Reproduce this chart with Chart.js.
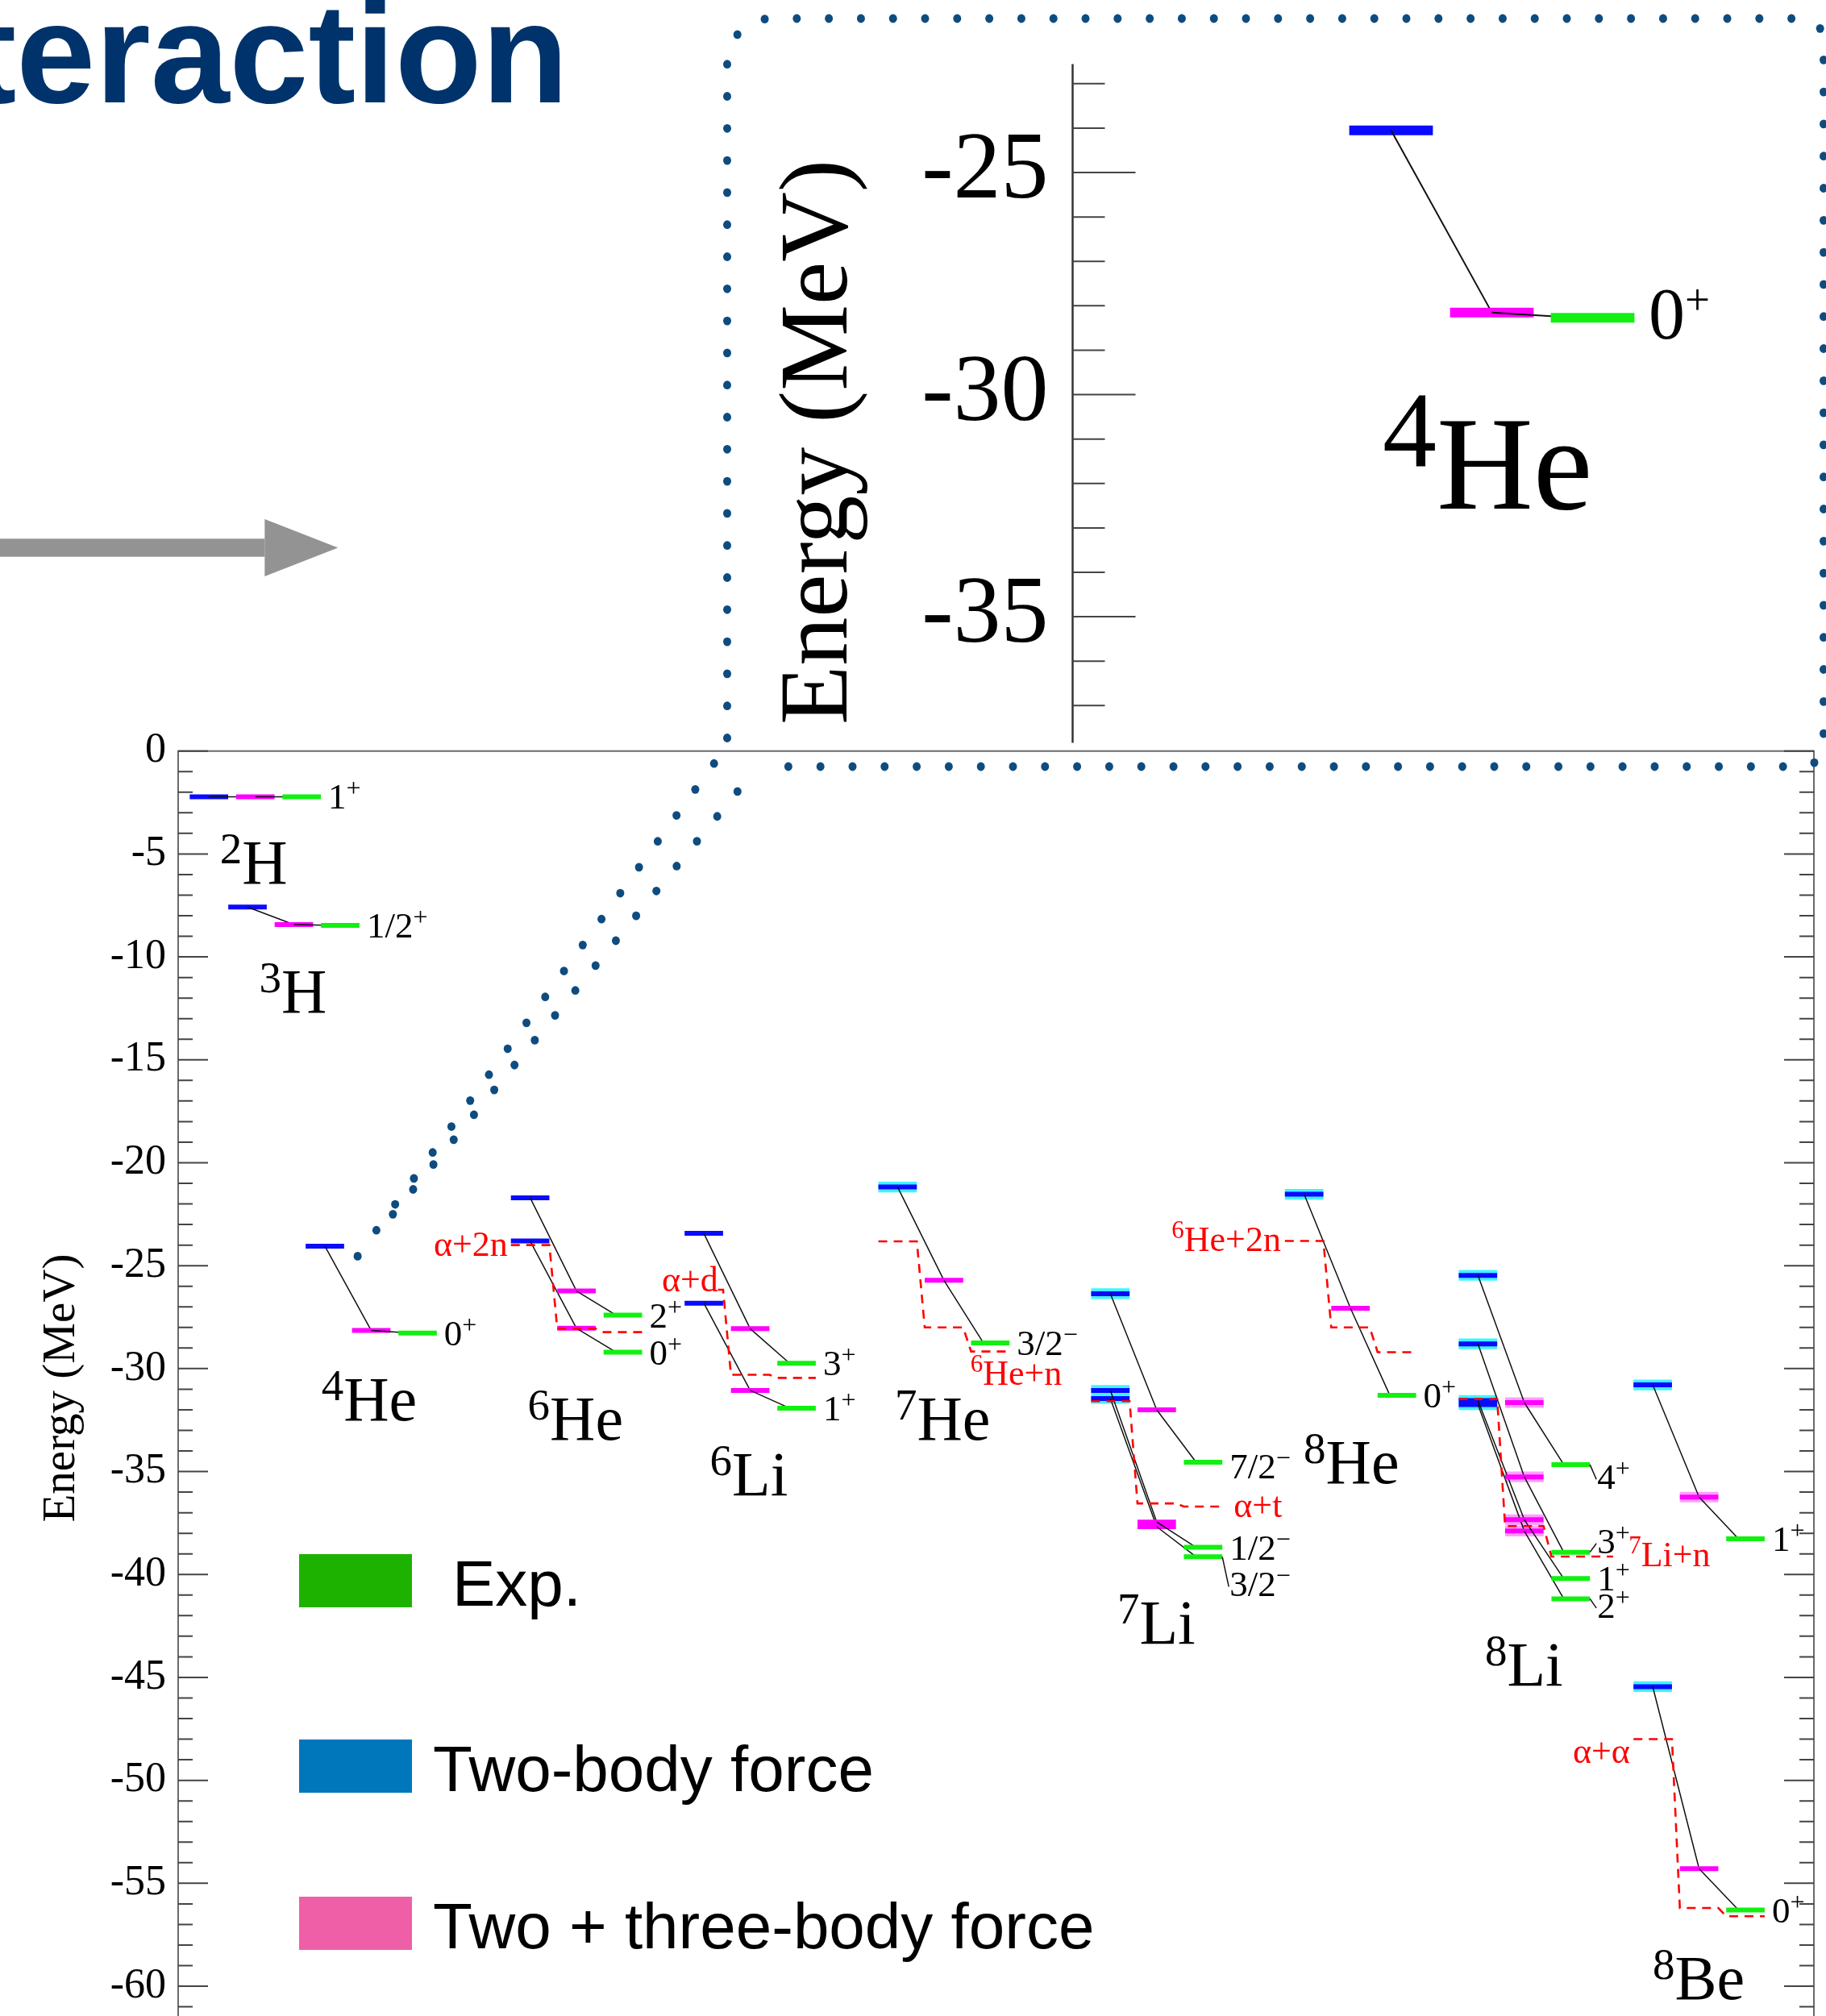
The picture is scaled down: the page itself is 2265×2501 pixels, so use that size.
<!DOCTYPE html>
<html lang="en">
<head>
<meta charset="UTF-8">
<title>Light nuclei - energy levels</title>
<script src="https://cdn.jsdelivr.net/npm/chart.js@4.4.1/dist/chart.umd.min.js"></script>
<style>
  html, body { margin: 0; padding: 0; background: #fff; overflow: hidden; }
  #page { position: relative; width: 2265px; height: 2501px; overflow: hidden; background: #fff; }
  #page canvas { position: absolute; left: 0; top: 0; }
  #insetChart { top: -200px !important; }
</style>
</head>
<body>
<div id="page">
  <canvas id="mainChart" width="2265" height="2700"></canvas>
  <canvas id="insetChart" width="2265" height="1300"></canvas>
  <canvas id="deco" width="2265" height="2501"></canvas>
</div>
<script>
// ---- data (MeV) ----
const nuclei = ['^2H', '^3H', '^4He', '^6He', '^6Li', '^7He', '^7Li', '^8He', '^8Li', '^8Be'];

// one entry per state
const stateNucleus = [0, 1, 2, 3, 3, 4, 4, 5, 6, 6, 6, 7, 8, 8, 8, 8, 9, 9];
const twoBody      = [-2.22, -7.58, -24.05, -21.7, -23.8, -23.43, -26.82, -21.18, -26.36, -31.06, -31.45, -21.53, -25.47, -28.8, -31.55, -31.75, -30.79, -45.45];
const twoPlusThree = [-2.22, -8.43, -28.15, -26.23, -28.04, -28.06, -31.06, -25.71, -32.0, -37.45, -37.68, -27.07, -31.65, -35.26, -37.34, -37.89, -36.24, -54.29];
const experiment   = [-2.22, -8.47, -28.27, -27.4, -29.2, -29.74, -31.92, -28.75, -34.55, -38.68, -39.14, -31.3, -34.66, -38.92, -40.2, -41.18, -38.27, -56.3];
const spinParity   = ['1^+', '1/2^+', '0^+', '2^+', '0^+', '3^+', '1^+', '3/2^−', '7/2^−', '1/2^−', '3/2^−', '0^+', '4^+', '3^+', '1^+', '2^+', '1^+', '0^+'];

// breakup thresholds
const thresholdNucleus = [3, 4, 5, 6, 7, 8, 9];
const thresholdNames   = ['α+2n', 'α+d', '^6He+n', 'α+t', '^6He+2n', '^7Li+n', 'α+α'];
const thrTwoBody       = [-24.0, -26.17, -23.82, -31.58, -23.8, -31.48, -48.0];
const thrTwoPlusThree  = [-28.06, -30.3, -28.0, -36.55, -28.0, -37.65, -56.2];
const thrExperiment    = [-28.23, -30.45, -29.17, -36.7, -29.2, -39.13, -56.6];

const yTicksMain = [0, -5, -10, -15, -20, -25, -30, -35, -40, -45, -50, -55, -60];
const yTicksInset = [-25, -30, -35];
const legendLabels = ['Exp.', 'Two-body force', 'Two + three-body force'];

// ---- layout / style ----
const slot = [0.664, 1.496, 3.165, 7.593, 11.34, 15.52, 20.11, 24.29, 28.04, 31.81]; // column of the two-body bar
const BAR_HALF = 0.415;
const nameX = [0.90, 1.75, 3.09, 7.54, 11.47, 15.46, 20.26, 24.28, 28.19, 31.81];
const nameY = [-6.43, -12.70, -32.51, -33.45, -36.15, -33.45, -43.35, -35.55, -45.39, -60.62];
const jpShift = [0, 0, 0, 0, 0, 0, 0, 0, -0.2, 0, -1.33, 0, -0.6, 0.55, 0, -0.33, 0, 0];
const thrLabelX = [7.11, 11.65, 17.09, 22.77, 23.79, 31.29, 31.32];
const thrLabelY = [-24.52, -26.23, -30.8, -37.2, -24.28, -39.6, -49.15];
const thrLabelAlign = ['right', 'right', 'left', 'left', 'right', 'left', 'right'];
const thrStartShift = [0, 0.72, 0, 0, 0, 0, 0];
const thrEndShift = [0, 0, 0, 0, 0, 0.5, 0];
const pinkHalo = [12, 13, 14, 15, 16];
const legendTop = [1928, 2158, 2353];
const legendTextX = [561, 537, 537];
const legendColors = ['#1eb200', '#0077bb', '#ee5fa7'];

const BLUE = '#0a0aff', MAGENTA = '#ff00ff', GREEN = '#11f011', CYAN = '#3ff5ff', PINK = '#ffa0ff';
const SERIF = '"Liberation Serif", "Times New Roman", serif';
const SANS = '"Liberation Sans", Arial, sans-serif';

// text with one-character superscripts marked by ^
function drawRich(ctx, str, x, y, size, supSize, rise, align) {
  const parts = [];
  for (let i = 0; i < str.length; i++) {
    if (str[i] === '^') { parts.push([str[i + 1], true]); i++; }
    else if (parts.length && !parts[parts.length - 1][1]) parts[parts.length - 1][0] += str[i];
    else parts.push([str[i], false]);
  }
  let w = 0;
  parts.forEach(p => { ctx.font = (p[1] ? supSize : size) + 'px ' + SERIF; p.push(ctx.measureText(p[0]).width); w += p[2]; });
  let cx = align === 'right' ? x - w : (align === 'center' ? x - w / 2 : x);
  ctx.textAlign = 'left';
  ctx.textBaseline = 'alphabetic';
  parts.forEach(p => {
    ctx.font = (p[1] ? supSize : size) + 'px ' + SERIF;
    ctx.fillText(p[0], cx, p[1] ? y - rise : y);
    cx += p[2];
  });
}

function line(data, color, width, order, extra) {
  return Object.assign({ data: data, borderColor: color, borderWidth: width, order: order,
    pointRadius: 0, fill: false, tension: 0, borderCapStyle: 'butt', spanGaps: false }, extra || {});
}

function levelDatasets(states, bw, lw, withHalo) {
  const seg = (c, e) => [{ x: c - BAR_HALF, y: e }, { x: c + BAR_HALF, y: e }, { x: c, y: null }];
  const bars = [[], [], []], halos = [[], []], conn1 = [], conn2 = [];
  states.forEach(i => {
    const s = slot[stateNucleus[i]];
    const vals = [twoBody[i], twoPlusThree[i], experiment[i]];
    vals.forEach((e, k) => bars[k].push(...seg(s + k, e)));
    if (withHalo && stateNucleus[i] >= 5) halos[0].push(...seg(s, vals[0]));
    if (withHalo && pinkHalo.includes(i)) halos[1].push(...seg(s + 1, vals[1]));
    conn1.push({ x: s, y: vals[0] }, { x: s + 1, y: vals[1] }, { x: s, y: null });
    conn2.push({ x: s + 1, y: vals[1] }, { x: s + 2 - 0.15, y: vals[2] }, { x: s, y: null });
  });
  return [
    line(halos[0], CYAN, bw * 2.2, 9),
    line(halos[1], PINK, bw * 2.2, 8),
    line(bars[0], BLUE, bw, 7),
    line(conn1, '#111', lw, 6),
    line(bars[1], MAGENTA, bw, 5),
    line(conn2, '#111', lw, 4),
    line(bars[2], GREEN, bw, 3)
  ];
}

function thresholdData() {
  const pts = [];
  thresholdNucleus.forEach((n, j) => {
    const s = slot[n];
    const v = [thrTwoBody[j], thrTwoPlusThree[j], thrExperiment[j]];
    pts.push({ x: s - BAR_HALF + thrStartShift[j], y: v[0] }, { x: s + BAR_HALF, y: v[0] },
             { x: s + 1 - BAR_HALF, y: v[1] }, { x: s + 1 + BAR_HALF, y: v[1] },
             { x: s + 2 - BAR_HALF, y: v[2] }, { x: s + 2 + BAR_HALF + thrEndShift[j], y: v[2] },
             { x: s, y: null });
  });
  return pts;
}

function drawYTicks(ctx, a, yScale, major, minor, both) {
  ctx.strokeStyle = '#444';
  ctx.lineWidth = 2;
  ctx.beginPath();
  for (let v = Math.ceil(yScale.min); v <= Math.floor(yScale.max); v++) {
    const py = yScale.getPixelForValue(v);
    const len = v % 5 === 0 ? major : minor;
    ctx.moveTo(a.left, py); ctx.lineTo(a.left + len, py);
    if (both) { ctx.moveTo(a.right, py); ctx.lineTo(a.right - len, py); }
  }
  ctx.stroke();
}

const mainDecor = {
  id: 'mainDecor',
  afterDatasetsDraw(chart) {
    const ctx = chart.ctx, a = chart.chartArea, x = chart.scales.x, y = chart.scales.y;
    ctx.save();
    // frame
    ctx.strokeStyle = '#6a6a6a';
    ctx.lineWidth = 2;
    ctx.beginPath();
    ctx.moveTo(a.left, a.bottom); ctx.lineTo(a.left, a.top);
    ctx.lineTo(a.right, a.top); ctx.lineTo(a.right, a.bottom);
    ctx.stroke();
    drawYTicks(ctx, a, y, 37, 18, true);

    // axis title
    ctx.save();
    ctx.translate(91.5, (a.top + a.bottom) / 2);
    ctx.rotate(-Math.PI / 2);
    ctx.fillStyle = '#000';
    ctx.font = '57px ' + SERIF;
    ctx.textAlign = 'center';
    ctx.fillText('Energy (MeV)', 0, 0);
    ctx.restore();

    ctx.fillStyle = '#000';
    nuclei.forEach((name, n) => drawRich(ctx, name, x.getPixelForValue(nameX[n]), y.getPixelForValue(nameY[n]), 78, 55, 25, 'left'));

    // spin-parity labels
    ctx.strokeStyle = '#111';
    ctx.lineWidth = 1.5;
    spinParity.forEach((jp, i) => {
      const gx = x.getPixelForValue(slot[stateNucleus[i]] + 2 + BAR_HALF);
      const ey = y.getPixelForValue(experiment[i]);
      const lx = gx + 9;
      const ly = y.getPixelForValue(experiment[i] - 0.59 + jpShift[i]);
      if (Math.abs(jpShift[i]) >= 0.3) {
        ctx.beginPath(); ctx.moveTo(gx, ey); ctx.lineTo(lx - 1, ly - 12); ctx.stroke();
      }
      drawRich(ctx, jp, lx, ly, 45, 32, 15, 'left');
    });

    ctx.fillStyle = '#ff0000';
    thresholdNames.forEach((t, j) => drawRich(ctx, t, x.getPixelForValue(thrLabelX[j]), y.getPixelForValue(thrLabelY[j]), 44, 31, 16, thrLabelAlign[j]));

    // legend
    legendLabels.forEach((lab, k) => {
      ctx.fillStyle = legendColors[k];
      ctx.fillRect(a.left + 150, legendTop[k], 140, 66);
      ctx.fillStyle = '#000';
      ctx.font = '80px ' + SANS;
      ctx.textAlign = 'left';
      ctx.fillText(lab, legendTextX[k], legendTop[k] + 64);
    });
    ctx.restore();
  }
};

const mainSets = levelDatasets(stateNucleus.map((n, i) => i), 6, 1.5, true);
mainSets.push(line(thresholdData(), '#ff0000', 2.6, 1, { borderDash: [11, 8] }));

new Chart(document.getElementById('mainChart'), {
  type: 'line',
  data: { datasets: mainSets },
  options: {
    responsive: false,
    animation: false,
    events: [],
    layout: { padding: { top: 931.7, right: 15, bottom: 187.7, left: 0 } },
    plugins: { legend: { display: false }, tooltip: { enabled: false } },
    scales: {
      x: { type: 'linear', display: false, min: 0, max: 35.287 },
      y: {
        type: 'linear', min: -61.89, max: 0,
        afterFit: s => { s.width = 221; },
        afterBuildTicks: s => { s.ticks = yTicksMain.map(v => ({ value: v })); },
        ticks: { padding: 15, color: '#000', font: { family: SERIF, size: 52 }, callback: v => String(v) },
        grid: { display: false, drawTicks: false },
        border: { display: false }
      }
    }
  },
  plugins: [mainDecor]
});

// ---- zoomed 4He inset (canvas shifted up by 200px) ----
const insetIdx = [2];
const insetDecor = {
  id: 'insetDecor',
  afterDatasetsDraw(chart) {
    const ctx = chart.ctx, a = chart.chartArea, x = chart.scales.x, y = chart.scales.y;
    ctx.save();
    ctx.strokeStyle = '#333';
    ctx.lineWidth = 2.5;
    ctx.beginPath(); ctx.moveTo(a.left, a.top); ctx.lineTo(a.left, a.bottom); ctx.stroke();
    drawYTicks(ctx, a, y, 78, 40, false);

    ctx.save();
    ctx.translate(1049.6, (a.top + a.bottom) / 2 + 48);
    ctx.rotate(-Math.PI / 2);
    ctx.fillStyle = '#000';
    ctx.font = '120px ' + SERIF;
    ctx.textAlign = 'center';
    ctx.fillText('Energy (MeV)', 0, 0);
    ctx.restore();

    ctx.fillStyle = '#000';
    insetIdx.forEach(i => {
      const n = stateNucleus[i];
      drawRich(ctx, nuclei[n], x.getPixelForValue(slot[n] - 0.085), y.getPixelForValue(-32.56), 166, 134, 53, 'left');
      drawRich(ctx, spinParity[i], x.getPixelForValue(slot[n] + 2 + BAR_HALF + 0.14), y.getPixelForValue(experiment[i] - 0.47), 90, 55, 30, 'left');
    });
    ctx.restore();
  }
};

new Chart(document.getElementById('insetChart'), {
  type: 'line',
  data: { datasets: levelDatasets(insetIdx, 12, 2, false) },
  options: {
    responsive: false,
    animation: false,
    events: [],
    layout: { padding: { top: 279.6, right: 15, bottom: 178.4, left: 0 } },
    plugins: { legend: { display: false }, tooltip: { enabled: false } },
    scales: {
      x: { type: 'linear', display: false, min: 0.005, max: 7.361 },
      y: {
        type: 'linear', min: -37.84, max: -22.56,
        afterFit: s => { s.width = 1330.5; },
        afterBuildTicks: s => { s.ticks = yTicksInset.map(v => ({ value: v })); },
        ticks: { padding: 30, color: '#000', font: { family: SERIF, size: 118 }, callback: v => String(v) },
        grid: { display: false, drawTicks: false },
        border: { display: false }
      }
    }
  },
  plugins: [insetDecor]
});

// ---- slide decorations: title fragment, arrow, dotted call-out ----
const dc = document.getElementById('deco').getContext('2d');
dc.fillStyle = '#00336b';
dc.font = 'bold 176px ' + SANS;
dc.textAlign = 'right';
dc.fillText('teraction', 705, 127);

dc.fillStyle = '#939393';
dc.fillRect(0, 668.3, 328.3, 22.4);
dc.beginPath();
dc.moveTo(328.3, 644); dc.lineTo(419.3, 679.5); dc.lineTo(328.3, 715); dc.closePath();
dc.fill();

function arcPts(cx, cy, r, a0, a1) {
  const out = [];
  for (let k = 0; k <= 24; k++) {
    const t = a0 + (a1 - a0) * k / 24;
    out.push([cx + r * Math.cos(t), cy + r * Math.sin(t)]);
  }
  return out;
}
function dotsAlong(pts, step, r) {
  let carry = 0;
  for (let i = 0; i < pts.length - 1; i++) {
    const [x0, y0] = pts[i], [x1, y1] = pts[i + 1];
    const len = Math.hypot(x1 - x0, y1 - y0);
    let d = carry;
    while (d <= len) {
      const t = len ? d / len : 0;
      dc.beginPath();
      dc.ellipse(x0 + (x1 - x0) * t, y0 + (y1 - y0) * t, r, r * 1.08, 0, 0, Math.PI * 2);
      dc.fill();
      d += step;
    }
    carry = d - len;
  }
}
dc.fillStyle = '#0e4c80';
const callout = [[902, 915.5], [902, 78]]
  .concat(arcPts(957, 78, 55, Math.PI, Math.PI * 1.5))
  .concat([[2235, 23]])
  .concat(arcPts(2235, 50, 27, -Math.PI / 2, 0))
  .concat([[2262, 924]])
  .concat(arcPts(2235, 924, 27, 0, Math.PI / 2))
  .concat([[946, 951]]);
dotsAlong(callout, 39.8, 5);
dotsAlong([[885.7, 947.2], [441, 1562]], 39.7, 5);
dotsAlong([[914.8, 981.9], [464, 1535]], 39.8, 5);
</script>
</body>
</html>
